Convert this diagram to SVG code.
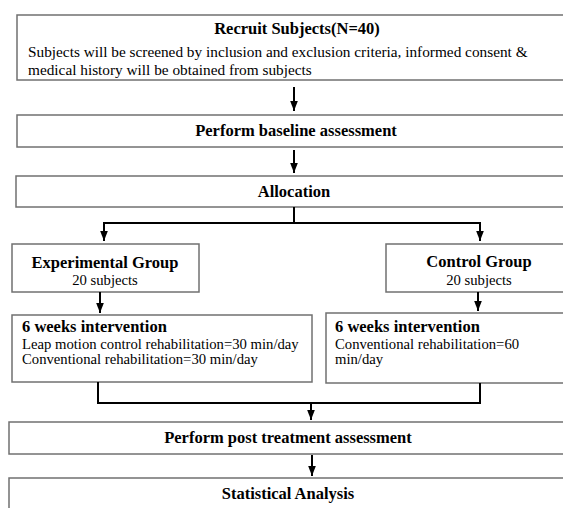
<svg xmlns="http://www.w3.org/2000/svg" width="563" height="508" viewBox="0 0 563 508">
<defs>
<marker id="ah" markerUnits="userSpaceOnUse" markerWidth="10" markerHeight="10" viewBox="0 0 10 10" refX="10" refY="5" orient="auto">
<path d="M0,1.2 L10,5 L0,8.8 Z" fill="#000"/>
</marker>
<style>
.box{fill:#fff;stroke:#707070;stroke-width:1.5}
.b{font-family:"Liberation Serif","Times New Roman",serif;font-weight:bold;font-size:16.5px;fill:#000}
.r{font-family:"Liberation Serif","Times New Roman",serif;font-size:14.7px;fill:#000}
.r1{font-size:15.3px}
.c{stroke:#000;stroke-width:2;fill:none}
.m{text-anchor:middle}
</style>
</defs>
<rect width="563" height="508" fill="#fff"/>
<g id="recruit">
<rect class="box" x="17" y="15" width="560" height="65"/>
<text class="b m" x="297" y="34">Recruit Subjects(N=40)</text>
<text class="r r1" x="28" y="57">Subjects will be screened by inclusion and exclusion criteria, informed consent &amp;</text>
<text class="r r1" x="28" y="75">medical history will be obtained from subjects</text>
</g>
<g id="baseline">
<rect class="box" x="17" y="115" width="560" height="32"/>
<text class="b m" x="296" y="136">Perform baseline assessment</text>
</g>
<g id="allocation">
<rect class="box" x="16" y="176" width="560" height="31"/>
<text class="b m" x="294" y="197">Allocation</text>
</g>
<g id="experimental">
<rect class="box" x="12" y="244" width="187" height="48"/>
<text class="b m" x="105" y="268">Experimental Group</text>
<text class="r m" x="105" y="285">20 subjects</text>
</g>
<g id="control">
<rect class="box" x="386" y="244" width="187" height="48"/>
<text class="b m" x="479" y="267">Control Group</text>
<text class="r m" x="479" y="285">20 subjects</text>
</g>
<g id="exp-intervention">
<rect class="box" x="12" y="315" width="300" height="67"/>
<text class="b" x="22" y="332">6 weeks intervention</text>
<text class="r" x="22" y="349">Leap motion control rehabilitation=30 min/day</text>
<text class="r" x="22" y="364">Conventional rehabilitation=30 min/day</text>
</g>
<g id="ctrl-intervention">
<rect class="box" x="326" y="313" width="250" height="70"/>
<text class="b" x="335" y="332">6 weeks intervention</text>
<text class="r" x="335" y="349">Conventional rehabilitation=60</text>
<text class="r" x="335" y="364">min/day</text>
</g>
<g id="post">
<rect class="box" x="9" y="422" width="570" height="32"/>
<text class="b m" x="288" y="443">Perform post treatment assessment</text>
</g>
<g id="stats">
<rect class="box" x="9" y="478" width="570" height="40"/>
<text class="b m" x="288" y="499">Statistical Analysis</text>
</g>
<g id="connectors">
<path class="c" d="M294,87 L294,111" marker-end="url(#ah)"/>
<path class="c" d="M294,150 L294,173" marker-end="url(#ah)"/>
<path class="c" d="M294,207 L294,223 M104,223 L480,223"/>
<path class="c" d="M104,222 L104,241" marker-end="url(#ah)"/>
<path class="c" d="M480,222 L480,241" marker-end="url(#ah)"/>
<path class="c" d="M100,292 L100,313" marker-end="url(#ah)"/>
<path class="c" d="M478,292 L478,311" marker-end="url(#ah)"/>
<path class="c" d="M98,382 L98,403 L480,403 L480,383"/>
<path class="c" d="M311,403 L311,420" marker-end="url(#ah)"/>
<path class="c" d="M312,455 L312,476" marker-end="url(#ah)"/>
</g>
</svg>
